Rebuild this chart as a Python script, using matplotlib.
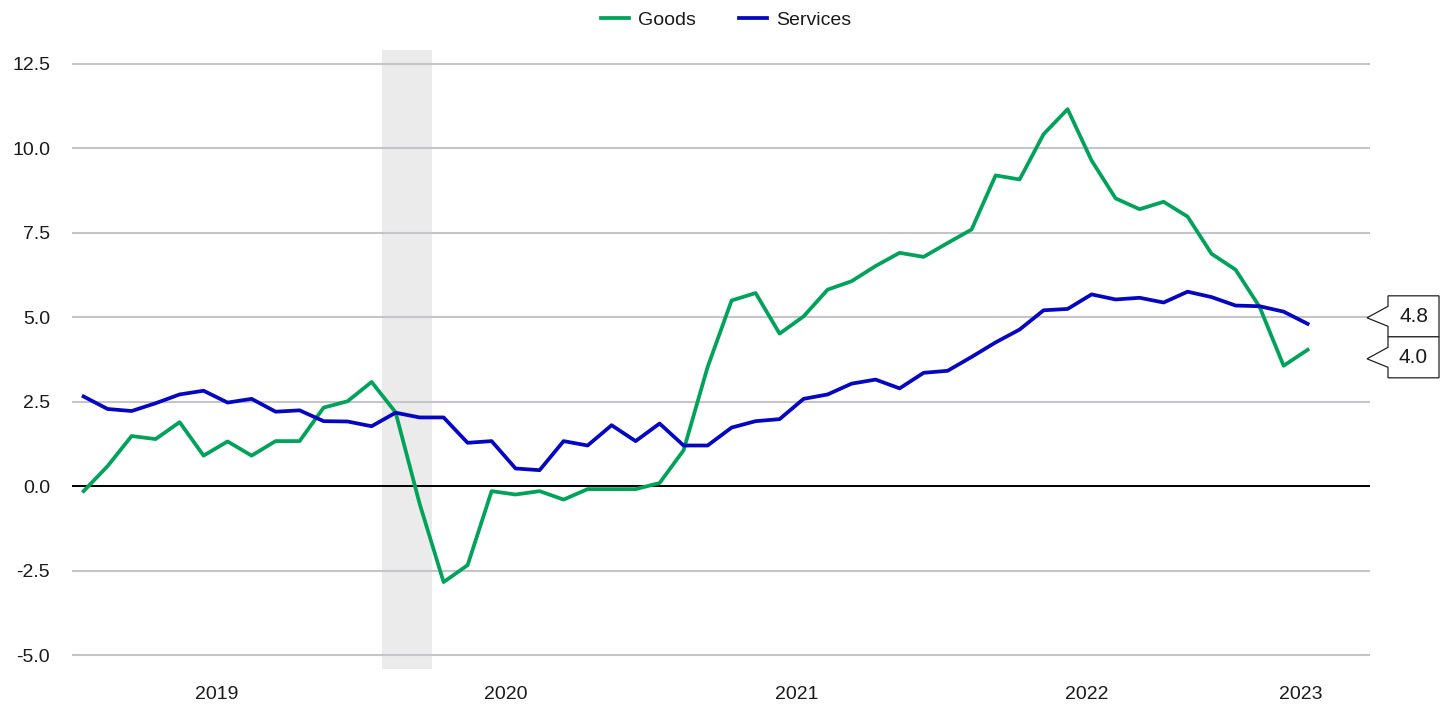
import matplotlib
matplotlib.use('Agg')
import matplotlib.pyplot as plt
import numpy as np
import pandas as pd
from matplotlib.patches import Polygon

plt.rcParams['font.family'] = ['Liberation Sans', 'DejaVu Sans']

# ---- data (monthly, Jan 2019 - Apr 2023) ----
months = pd.period_range('2019-01', '2023-04', freq='M').strftime('%Y-%m').tolist()
goods = [-0.15, 0.59, 1.48, 1.39, 1.89, 0.90, 1.32, 0.90, 1.33, 1.33, 2.32, 2.51,
         3.08, 2.18, -0.52, -2.84, -2.34, -0.15, -0.25, -0.15, -0.40, -0.09, -0.09, -0.09,
         0.09, 1.06, 3.52, 5.49, 5.71, 4.51, 5.02, 5.81, 6.06, 6.51, 6.90, 6.78,
         7.19, 7.59, 9.19, 9.07, 10.41, 11.15, 9.63, 8.51, 8.19, 8.41, 7.97, 6.87,
         6.40, 5.30, 3.56, 4.03]
services = [2.65, 2.28, 2.22, 2.45, 2.71, 2.82, 2.47, 2.58, 2.20, 2.24, 1.92, 1.91,
            1.77, 2.17, 2.03, 2.03, 1.28, 1.33, 0.52, 0.47, 1.33, 1.20, 1.80, 1.33,
            1.85, 1.20, 1.20, 1.73, 1.92, 1.98, 2.58, 2.71, 3.03, 3.15, 2.89, 3.35,
            3.41, 3.82, 4.25, 4.63, 5.20, 5.24, 5.67, 5.52, 5.57, 5.43, 5.75, 5.59,
            5.34, 5.32, 5.16, 4.80]
series_names = ['Goods', 'Services']
year_labels = ['2019', '2020', '2021', '2022', '2023']
year_label_pos = [5.55, 17.6, 29.7, 41.8, 50.7]
yticks = [-5.0, -2.5, 0.0, 2.5, 5.0, 7.5, 10.0, 12.5]
recession = (12.45, 14.5)

GREEN = '#00a359'
BLUE = '#0505c4'
TXT = '#1a1a1a'

W, H, DPI = 1451, 708, 100
fig = plt.figure(figsize=(W / DPI, H / DPI), dpi=DPI)
ax_l, ax_r, ax_t, ax_b = 71.6, 1370.0, 50.0, 668.6
ax = fig.add_axes([ax_l / W, 1 - ax_b / H, (ax_r - ax_l) / W, (ax_b - ax_t) / H])
ax.set_xlim(-0.5, 53.6)
ax.set_ylim(-5.4, 12.9)

x = np.arange(len(months))
ax.axvspan(recession[0], recession[1], color='#ebebeb', lw=0, zorder=0)
ax.set_yticks(yticks)
ax.set_yticklabels([f'{v:.1f}' for v in yticks])
ax.yaxis.grid(True, color='#c4c4ca', lw=1.5, zorder=0.5)
ax.set_axisbelow(True)
ax.axhline(0, color='black', lw=1.4, zorder=2)

l1, = ax.plot(x, goods, color=GREEN, lw=2.7, label=series_names[0], zorder=3)
l2, = ax.plot(x, services, color=BLUE, lw=2.7, label=series_names[1], zorder=3)

for s in ax.spines.values():
    s.set_visible(False)
ax.tick_params(axis='y', length=0, pad=15.5, labelsize=14, labelcolor=TXT)
ax.set_xticks(year_label_pos)
ax.set_xticklabels(year_labels)
ax.tick_params(axis='x', length=0, pad=12.5, labelsize=14, labelcolor=TXT)

fig.legend(handles=[l1, l2], loc='center', bbox_to_anchor=(726 / W, 1 - 20 / H),
           ncol=2, frameon=False, fontsize=14, handlelength=1.45,
           handletextpad=0.45, columnspacing=2.2, labelcolor=TXT)

# ---- end-value callout boxes ----
last_vals = [services[-1], goods[-1]]
disp = [ax.transData.transform((x[-1], v))[1] for v in last_vals]
bh = 41.0
order = np.argsort(disp)[::-1]
centers = list(disp)
if abs(disp[0] - disp[1]) < bh:
    mid = (disp[0] + disp[1]) / 2
    centers[order[0]] = mid + bh / 2
    centers[order[1]] = mid - bh / 2
ax_right_px = ax.transAxes.transform((1, 0))[0]
xl = ax_right_px + 18
xr = xl + 51
tip = ax_right_px - 3
for v, c in zip(last_vals, centers):
    pts = [(xl, c + bh / 2), (xr, c + bh / 2), (xr, c - bh / 2), (xl, c - bh / 2),
           (xl, c - 10), (tip, c - 1.5), (xl, c + 10)]
    pts = [(px / W, py / H) for px, py in pts]
    poly = Polygon(pts, closed=True, facecolor='white', edgecolor='#222222', lw=0.9,
                   transform=fig.transFigure, zorder=5)
    fig.add_artist(poly)
    fig.text((xl + xr) / 2 / W, c / H, f'{v:.1f}', ha='center', va='center',
             fontsize=15, color=TXT, zorder=6)

fig.savefig('out.png', dpi=DPI)
